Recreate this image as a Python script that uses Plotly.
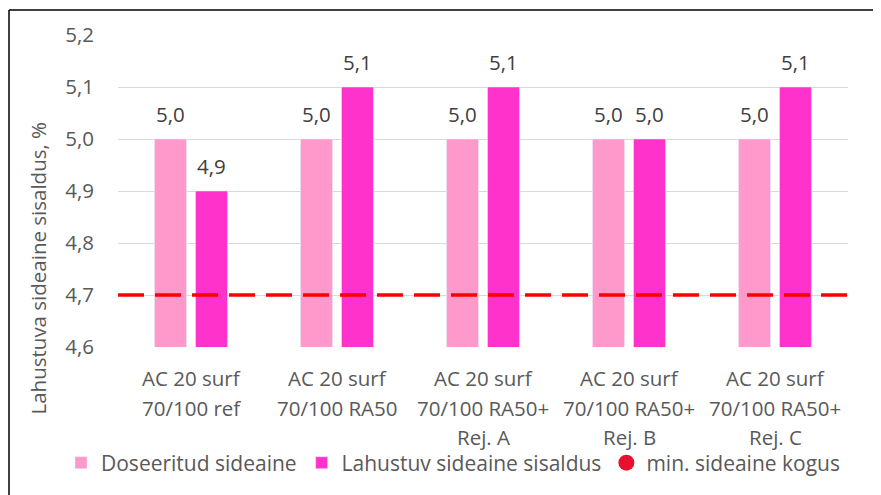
import plotly.graph_objects as go

categories = ["AC 20 surf|70/100 ref", "AC 20 surf|70/100 RA50", "AC 20 surf|70/100 RA50+|Rej. A",
              "AC 20 surf|70/100 RA50+|Rej. B", "AC 20 surf|70/100 RA50+|Rej. C"]
cat_keys = ["c1", "c2", "c3", "c4", "c5"]
dosed = [5.0, 5.0, 5.0, 5.0, 5.0]
soluble = [4.9, 5.1, 5.1, 5.0, 5.1]
min_binder = 4.7
y_ticks = [4.6, 4.7, 4.8, 4.9, 5.0, 5.1, 5.2]

series_names = ["Doseeritud sideaine", "Lahustuv sideaine sisaldus", "min. sideaine kogus"]
y_title = "Lahustuva sideaine sisaldus, %"

FONT = "Open Sans"
GREY = "#595959"
FS = 20.5

L, R, T, B = 110, 41, 27, 156
PW, PH = 881 - L - R, 495 - T - B


def comma(v):
    return f"{v:.1f}".replace(".", ",")


fig = go.Figure()
fig.add_trace(go.Bar(x=cat_keys, y=dosed, name=series_names[0], marker_color="#FF99CC"))
fig.add_trace(go.Bar(x=cat_keys, y=soluble, name=series_names[1], marker_color="#FF33CC"))
fig.add_trace(go.Scatter(x=[None], y=[None], mode="markers", name=series_names[2],
                         marker=dict(color="#E8112D", size=20, symbol="circle")))

annotations = []
for vals, xs in ((dosed, -20.5), (soluble, 20.5)):
    for k, v in zip(cat_keys, vals):
        annotations.append(dict(x=k, y=v, xref="x", yref="y", text=comma(v),
                                showarrow=False, xshift=xs, yshift=25, yanchor="middle",
                                font=dict(family=FONT, size=FS, color="#404040")))
for k, lab in zip(cat_keys, categories):
    for i, line in enumerate(lab.split("|")):
        annotations.append(dict(x=k, y=0, xref="x", yref="paper", text=line, showarrow=False,
                                yshift=-31 - i * 29.5, yanchor="middle",
                                font=dict(family=FONT, size=FS, color=GREY)))
annotations.append(dict(x=(29.5 - L) / PW, y=(PH + T - 260) / PH, xref="paper", yref="paper",
                        text=y_title, textangle=-90, showarrow=False, xanchor="center",
                        yanchor="middle", font=dict(family=FONT, size=FS, color=GREY)))

bx, by = (1 - L) / PW, 1 + (T - 2) / PH
shapes = [
    dict(type="line", xref="paper", yref="y", x0=0, x1=1, y0=min_binder, y1=min_binder,
         line=dict(color="#FF0000", width=3.5, dash="26px,11px"), layer="above"),
    dict(type="line", xref="paper", yref="paper", x0=bx, x1=bx, y0=by, y1=-1,
         line=dict(color="black", width=1.5)),
    dict(type="line", xref="paper", yref="paper", x0=bx, x1=1.2, y0=by, y1=by,
         line=dict(color="black", width=1.5)),
]

fig.update_layout(
    width=881, height=495,
    margin=dict(l=L, r=R, t=T, b=B, autoexpand=False),
    paper_bgcolor="white", plot_bgcolor="white",
    barmode="group", bargap=0.438, bargroupgap=0.22,
    showlegend=True,
    legend=dict(orientation="h", x=(53 - L) / PW, xanchor="left", y=(PH + T - 455) / PH,
                yanchor="middle", font=dict(family=FONT, size=21, color=GREY),
                traceorder="normal", bgcolor="rgba(0,0,0,0)"),
    annotations=annotations,
    shapes=shapes,
)
fig.update_xaxes(showticklabels=False, showgrid=False, showline=False, ticks="")
fig.update_yaxes(range=[y_ticks[0], y_ticks[-1]], showgrid=True,
                 tickvals=y_ticks, ticktext=[comma(v) for v in y_ticks],
                 gridcolor="#D9D9D9", gridwidth=1, zeroline=False, showline=False,
                 ticks="", ticklabelstandoff=23, automargin=False,
                 tickfont=dict(family=FONT, size=FS, color=GREY))

fig.write_html("out.html")
